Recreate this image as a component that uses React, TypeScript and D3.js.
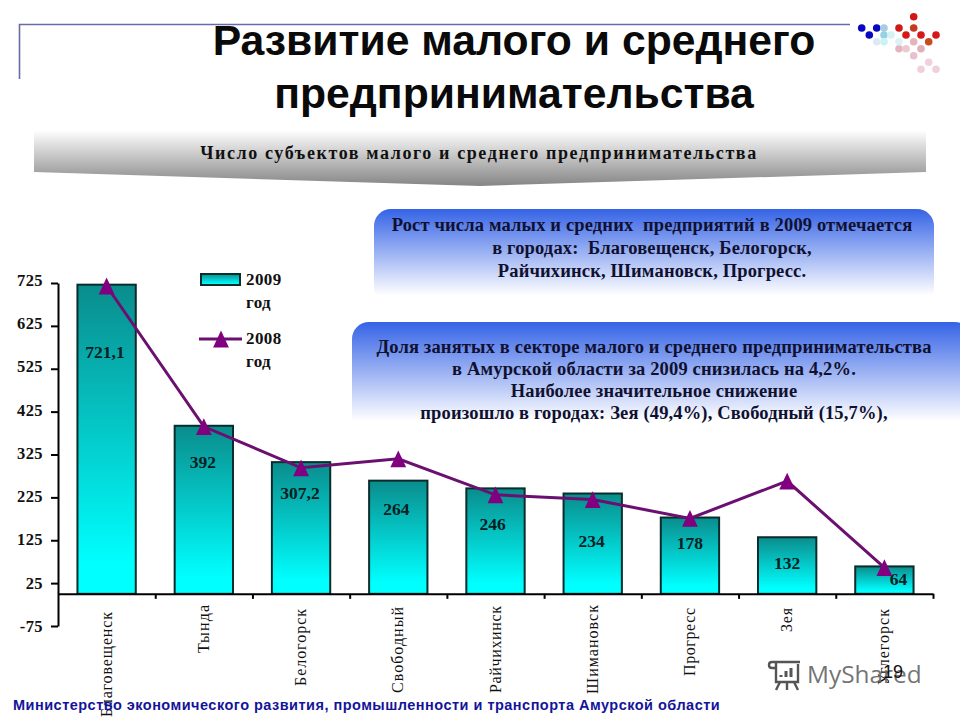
import { useEffect, useRef } from 'react';
import * as d3 from 'd3';

const cities = ['Благовещенск', 'Тында', 'Белогорск', 'Свободный', 'Райчихинск', 'Шимановск', 'Прогресс', 'Зея', 'Углегорск'];
const values2009 = [721.1, 392, 307.2, 264, 246, 234, 178, 132, 64];
const values2008 = [718, 390, 294, 315, 231, 220, 176, 263, 61];
const barLabels = ['721,1', '392', '307,2', '264', '246', '234', '178', '132', '64'];
const yTicks = [-75, 25, 125, 225, 325, 425, 525, 625, 725];

const titleLines = ['Развитие малого и среднего', 'предпринимательства'];
const subtitle = 'Число субъектов малого и среднего предпринимательства';
const box1Lines = [
  'Рост числа малых и средних  предприятий в 2009 отмечается',
  'в городах:  Благовещенск, Белогорск,',
  'Райчихинск, Шимановск, Прогресс.',
];
const box2Lines = [
  'Доля занятых в секторе малого и среднего предпринимательства',
  'в Амурской области за 2009 снизилась на 4,2%.',
  'Наиболее значительное снижение',
  'произошло в городах: Зея (49,4%), Свободный (15,7%),',
];
const footer = 'Министерство экономического развития, промышленности и транспорта Амурской области';

// hand placed in the original, px below bar top / px from bar centre
const labelDrop = [73, 42, 37, 34, 42, 53, 31, 32, 19];
const labelShift = [-1.6, -1, -1, -2, -3, -1, 0, 0, 14];
// city names: where each one starts under the axis and how long it runs
const cityTop = [612, 605, 609, 607, 606, 605, 608, 608, 609];
const cityLength = [105, 48, 77, 86, 87, 89, 68, 24, 76];

// corner logo [x, y, colour]
const dots: [number, number, string][] = [
  [913.7, 16.7, '#d01818'], [899, 28, '#d01818'], [913.7, 28, '#c83a20'], [906, 35, '#d81818'],
  [921, 35, '#d81818'], [936, 35, '#d81818'], [928.7, 41.7, '#c84a20'], [913.7, 41.7, '#e6b4bc'],
  [899, 48.7, '#e6b4c0'], [906, 48.7, '#ecc8d0'], [921, 48.7, '#e0b0b8'], [913.7, 55.7, '#e8c0d0'],
  [928.7, 62.3, '#f0d0dc'], [921, 69.3, '#f0d0dc'], [936, 69.3, '#f0d0dc'],
  [861.7, 28, '#0808c0'], [876.7, 28, '#0808c0'], [869.3, 35, '#0808c0'],
  [884, 28, '#a8cce8'], [884, 35, '#98d0e4'], [891, 35, '#d4f4f4'], [876.7, 41.7, '#dceaf4'],
  [884, 41.7, '#c8f4f4'], [899, 41.7, '#d8f4f4'],
];

const serif = '"Liberation Serif", serif';
const sans = '"Liberation Sans", sans-serif';

// the chart's triangle is a bit taller than an equilateral one and sits centred on the point
const marker = {
  draw(ctx: any, size: number) {
    const r = Math.sqrt(size) / 2;
    ctx.moveTo(0, -r * 1.06);
    ctx.lineTo(r, r * 1.06);
    ctx.lineTo(-r, r * 1.06);
    ctx.closePath();
  },
};

export default function App() {
  const ref = useRef<SVGSVGElement>(null);

  useEffect(() => {
    const svg = d3.select(ref.current);
    svg.selectAll('*').remove();

    const x = d3.scaleBand<string>().domain(cities).range([58, 933]).paddingInner(0.4).paddingOuter(0.2);
    const y = d3.scaleLinear().domain([-75, 725]).range([626, 283]);

    const defs = svg.append('defs');
    const grad = (id: string, stops: [number, string, number?][]) => {
      const g = defs.append('linearGradient').attr('id', id).attr('x1', 0).attr('x2', 0).attr('y1', 0).attr('y2', 1);
      stops.forEach(([o, c, a]) => g.append('stop').attr('offset', o).attr('stop-color', c).attr('stop-opacity', a ?? 1));
    };
    grad('bar', [[0, '#0a8c8c'], [0.9, '#00ffff'], [1, '#00ffff']]);
    grad('band', [[0, '#ffffff'], [1, '#858585']]);
    grad('blue', [[0, '#3563e6'], [0.9, '#ffffff', 1], [1, '#ffffff', 0]]);

    /* Frame and logo */
    svg.append('path').attr('d', 'M19.5 79V24.5H850').attr('fill', 'none').attr('stroke', '#6a6aa8').attr('stroke-width', 1.6);
    svg.append('g').selectAll('circle').data(dots).join('circle')
      .attr('cx', d => d[0]).attr('cy', d => d[1]).attr('r', 3.8).attr('fill', d => d[2]);

    /* Title */
    svg.append('g').selectAll('text').data(titleLines).join('text')
      .attr('x', 514).attr('y', (_, i) => 55 + i * 53)
      .attr('text-anchor', 'middle').attr('font-family', sans).attr('font-weight', 700).attr('font-size', 42.7)
      .attr('fill', '#0a0a0a').text(d => d);

    /* Subtitle band */
    svg.append('path').attr('d', 'M34 130H926V172L480 186L34 172Z').attr('fill', 'url(#band)');
    svg.append('text').attr('x', 479).attr('y', 159).attr('text-anchor', 'middle')
      .attr('font-family', serif).attr('font-weight', 700).attr('font-size', 18).attr('letter-spacing', 1.6)
      .attr('fill', '#111').text(subtitle);

    /* Callouts */
    const callout = (bx: number, by: number, w: number, h: number, lines: string[], first: number, step: number, cx: number) => {
      svg.append('rect').attr('x', bx).attr('y', by).attr('width', w).attr('height', h).attr('rx', 17).attr('fill', 'url(#blue)');
      svg.append('g').selectAll('text').data(lines).join('text')
        .attr('x', cx).attr('y', (_, i) => first + i * step).attr('text-anchor', 'middle')
        .style('white-space', 'pre')
        .attr('font-family', serif).attr('font-weight', 700).attr('font-size', 18.5).attr('letter-spacing', 0.15)
        .attr('fill', '#101030').text(d => d);
    };
    callout(374, 209, 560, 96, box1Lines, 231, 23, 652);
    callout(352, 322, 620, 110, box2Lines, 352.5, 22, 654);

    /* Bars */
    svg.append('g').selectAll('rect').data(values2009).join('rect')
      .attr('x', (_, i) => x(cities[i])!)
      .attr('y', d => y(d))
      .attr('width', x.bandwidth())
      .attr('height', d => y(0) - y(d))
      .attr('fill', 'url(#bar)')
      .attr('stroke', '#0a2c2c').attr('stroke-width', 2);

    svg.append('g').selectAll('text').data(barLabels).join('text')
      .attr('x', (_, i) => x(cities[i])! + x.bandwidth() / 2 + labelShift[i])
      .attr('y', (_, i) => y(values2009[i]) + labelDrop[i])
      .attr('text-anchor', 'middle').attr('font-family', serif).attr('font-weight', 700).attr('font-size', 17.5)
      .attr('fill', '#04201f').text(d => d);

    /* 2008 line */
    const line = d3.line<number>()
      .x((_, i) => x(cities[i])! + x.bandwidth() / 2)
      .y(d => y(d));
    svg.append('path').datum(values2008).attr('d', line).attr('fill', 'none').attr('stroke', '#6b1070').attr('stroke-width', 3);
    const tri = d3.symbol().type(marker).size(250);
    svg.append('g').selectAll('path').data(values2008).join('path')
      .attr('d', tri)
      .attr('transform', (d, i) => `translate(${x(cities[i])! + x.bandwidth() / 2},${y(d)})`)
      .attr('fill', '#800080');

    /* Axes */
    const yAxis = svg.append('g').attr('transform', 'translate(58,0)')
      .call(d3.axisLeft(y).tickValues(yTicks).tickSize(7).tickSizeOuter(0).tickPadding(8).tickFormat(d => String(d)));
    yAxis.selectAll('text')
      .attr('y', (d: any) => -((d + 75) / 800) * 3)
      .attr('font-family', serif).attr('font-weight', 700).attr('font-size', 16.5).attr('fill', '#111').attr('letter-spacing', 0.4);
    yAxis.selectAll('line,path').attr('stroke', '#000').attr('stroke-width', 2);

    const bandEdges = d3.scaleLinear().domain([0, cities.length]).range([58, 933]);
    const xAxis = svg.append('g').attr('transform', `translate(0,${y(0)})`)
      .call(d3.axisBottom(bandEdges).tickValues(d3.range(1, cities.length + 1)).tickSize(5).tickSizeOuter(0).tickFormat(() => ''));
    xAxis.selectAll('line,path').attr('stroke', '#000').attr('stroke-width', 2);

    svg.append('g').selectAll('text').data(cities).join('text')
      .attr('transform', (d, i) => `translate(${x(d)! + x.bandwidth() / 2 + 5},${cityTop[i]}) rotate(-90)`)
      .attr('text-anchor', 'end').attr('font-family', serif).attr('font-size', 16)
      .attr('textLength', (_, i) => cityLength[i]).attr('lengthAdjust', 'spacing')
      .attr('fill', '#111').text(d => d);

    /* Legend */
    svg.append('rect').attr('x', 201).attr('y', 274).attr('width', 39).attr('height', 11)
      .attr('fill', 'url(#bar)').attr('stroke', '#0a2c2c').attr('stroke-width', 2);
    svg.append('line').attr('x1', 199).attr('x2', 242).attr('y1', 339).attr('y2', 339).attr('stroke', '#6b1070').attr('stroke-width', 3);
    svg.append('path').attr('d', tri).attr('transform', 'translate(221,339)').attr('fill', '#800080');
    [['2009', 246, 285], ['год', 246, 308], ['2008', 246, 344], ['год', 246, 367]].forEach(([t, tx, ty]) => {
      svg.append('text').attr('x', tx).attr('y', ty).attr('font-family', serif).attr('font-weight', 700)
        .attr('font-size', 17).attr('letter-spacing', 0.4).attr('fill', '#111').text(t as string);
    });

    /* Footer */
    svg.append('text').attr('x', 13).attr('y', 710).attr('font-family', sans).attr('font-weight', 700)
      .attr('font-size', 14.5).attr('letter-spacing', 0.48).attr('fill', '#14149a').text(footer);

    /* Watermark and page number */
    const mark = svg.append('g').attr('fill', 'none').attr('stroke', '#555').attr('stroke-width', 2.4);
    mark.append('path').attr('d', 'M772 662H800M772 662c-4 0-4 6 0 6H776M776 662V682H798V664');
    mark.append('path').attr('d', 'M780 682L776 690M787 682V690M794 682L798 690');
    mark.append('path').attr('d', 'M781 677V675M786 677V671M791 677V668').attr('stroke-width', 3);
    svg.append('text').attr('x', 807).attr('y', 683).attr('font-family', '"Open Sans", sans-serif')
      .attr('font-size', 24.4).attr('fill', '#666').attr('fill-opacity', 0.92).text('MyShared');
    svg.append('text').attr('x', 903).attr('y', 678).attr('text-anchor', 'end').attr('font-family', sans)
      .attr('font-size', 18).attr('fill', '#111').text('19');
  }, []);

  return <svg ref={ref} width={960} height={720} style={{ position: 'absolute', left: 0, top: 0, background: '#fff' }} />;
}
